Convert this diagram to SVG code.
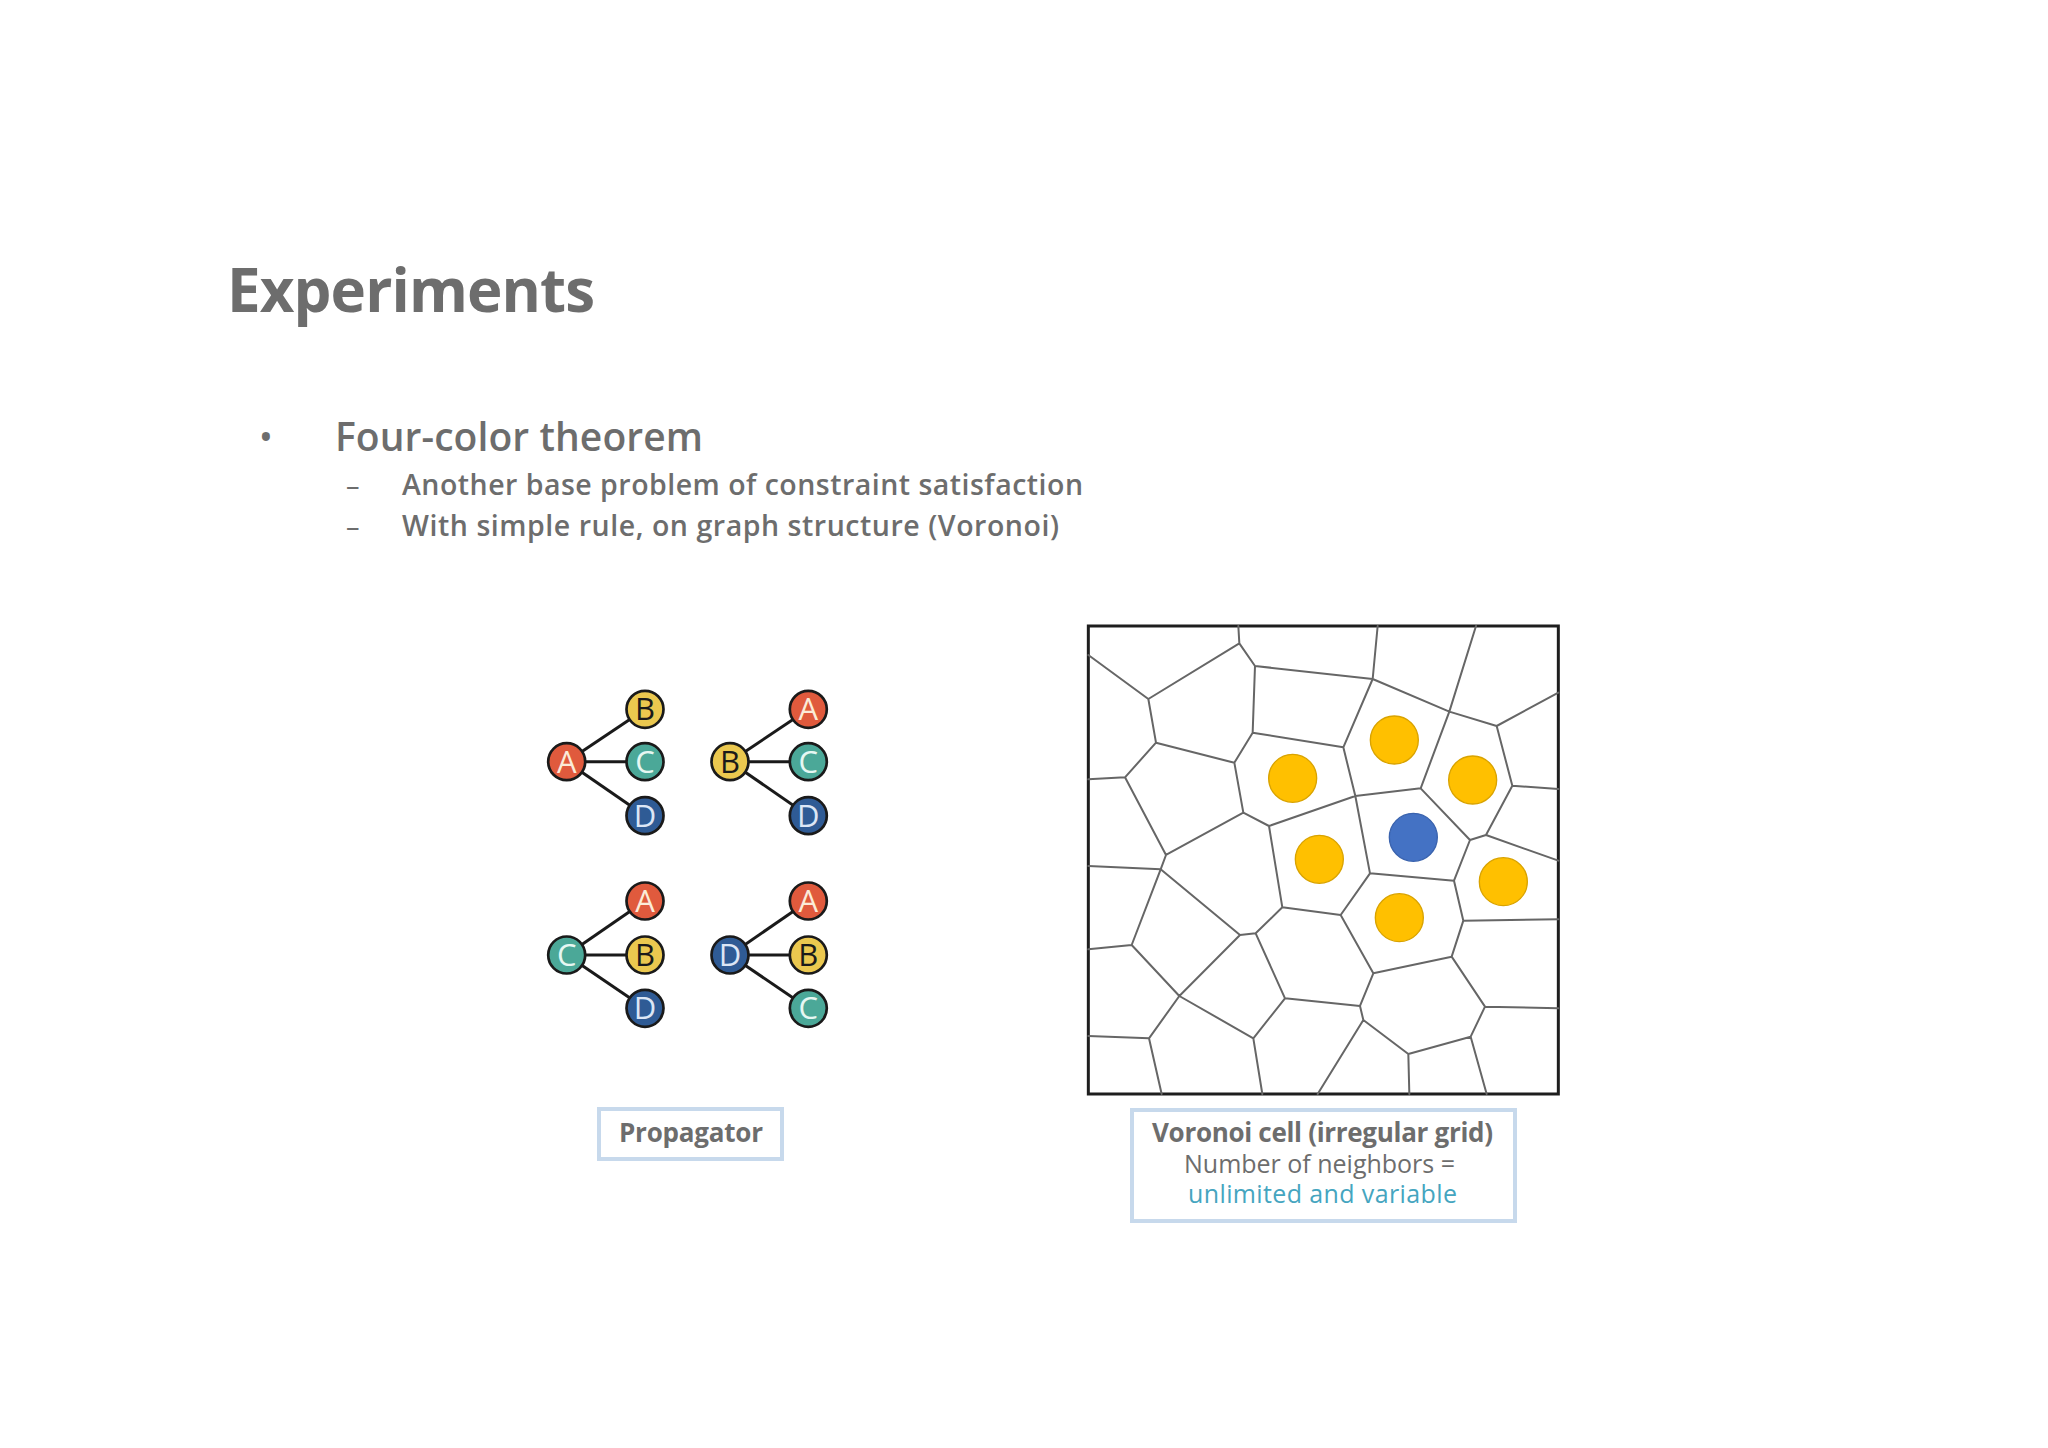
<svg xmlns="http://www.w3.org/2000/svg" width="2048" height="1448" viewBox="0 0 2048 1448">
<defs>
<style>
.t{font-family:"Open Sans","Liberation Sans",sans-serif;fill:#6d6d6d}
.b{font-weight:700}
.sb{font-weight:600}
.lbl{fill:none;stroke:#c7d9ec;stroke-width:4}
.edge{stroke:#1a1a1a;stroke-width:3;fill:none}
.nd circle{stroke:#1a1a1a;stroke-width:2.7}
.nd text{font-family:"Open Sans","Liberation Sans",sans-serif;font-size:31px;text-anchor:middle}
.cA{fill:#E05A3D}.cB{fill:#EBC84F}.cC{fill:#4BA898}.cD{fill:#2F5B95}
.tA{fill:#FBEBD8}.tB{fill:#1a1a1a}.tC{fill:#E6F7F2}.tD{fill:#DCE6F5}
.vor{stroke:#666666;stroke-width:6;fill:none;stroke-linecap:round}
.yd{fill:#FFC000;stroke:#D9A300;stroke-width:4}
.bd{fill:#4472C4;stroke:#3A63AE;stroke-width:4}
</style>
</defs>
<rect width="2048" height="1448" fill="#ffffff"/>

<g id="title">
<text class="t b" x="227" y="312" font-size="60" textLength="368">Experiments</text>
</g>
<g id="bullets">
<text class="t" x="266" y="451" font-size="38" text-anchor="middle">•</text>
<text class="t sb" x="335" y="451" font-size="39" textLength="368">Four-color theorem</text>
<text class="t" x="346" y="495" font-size="27">–</text>
<text class="t sb" x="402" y="495" font-size="28.5" textLength="681">Another base problem of constraint satisfaction</text>
<text class="t" x="346" y="536" font-size="27">–</text>
<text class="t sb" x="402" y="536" font-size="28.5" textLength="657">With simple rule, on graph structure (Voronoi)</text>
</g>

<g id="connectors">
<line class="edge" x1="566.7" y1="761.7" x2="645" y2="709.3"/>
<line class="edge" x1="566.7" y1="761.7" x2="645" y2="761.7"/>
<line class="edge" x1="566.7" y1="761.7" x2="645" y2="815.7"/>
<line class="edge" x1="730" y1="761.7" x2="808.3" y2="709.3"/>
<line class="edge" x1="730" y1="761.7" x2="808.3" y2="761.7"/>
<line class="edge" x1="730" y1="761.7" x2="808.3" y2="815.7"/>
<line class="edge" x1="566.7" y1="955" x2="645" y2="901"/>
<line class="edge" x1="566.7" y1="955" x2="645" y2="955"/>
<line class="edge" x1="566.7" y1="955" x2="645" y2="1008.3"/>
<line class="edge" x1="730" y1="955" x2="808.3" y2="901"/>
<line class="edge" x1="730" y1="955" x2="808.3" y2="955"/>
<line class="edge" x1="730" y1="955" x2="808.3" y2="1008.3"/>
</g>

<g id="g1-A" class="nd"><circle class="cA" cx="566.7" cy="761.7" r="18.5"/><text class="tA" x="566.7" y="772.7">A</text></g>
<g id="g1-B" class="nd"><circle class="cB" cx="645" cy="709.3" r="18.5"/><text class="tB" x="645" y="720.3">B</text></g>
<g id="g1-C" class="nd"><circle class="cC" cx="645" cy="761.7" r="18.5"/><text class="tC" x="645" y="772.7">C</text></g>
<g id="g1-D" class="nd"><circle class="cD" cx="645" cy="815.7" r="18.5"/><text class="tD" x="645" y="826.7">D</text></g>

<g id="g2-B" class="nd"><circle class="cB" cx="730" cy="761.7" r="18.5"/><text class="tB" x="730" y="772.7">B</text></g>
<g id="g2-A" class="nd"><circle class="cA" cx="808.3" cy="709.3" r="18.5"/><text class="tA" x="808.3" y="720.3">A</text></g>
<g id="g2-C" class="nd"><circle class="cC" cx="808.3" cy="761.7" r="18.5"/><text class="tC" x="808.3" y="772.7">C</text></g>
<g id="g2-D" class="nd"><circle class="cD" cx="808.3" cy="815.7" r="18.5"/><text class="tD" x="808.3" y="826.7">D</text></g>

<g id="g3-C" class="nd"><circle class="cC" cx="566.7" cy="955" r="18.5"/><text class="tC" x="566.7" y="966">C</text></g>
<g id="g3-A" class="nd"><circle class="cA" cx="645" cy="901" r="18.5"/><text class="tA" x="645" y="912">A</text></g>
<g id="g3-B" class="nd"><circle class="cB" cx="645" cy="955" r="18.5"/><text class="tB" x="645" y="966">B</text></g>
<g id="g3-D" class="nd"><circle class="cD" cx="645" cy="1008.3" r="18.5"/><text class="tD" x="645" y="1019.3">D</text></g>

<g id="g4-D" class="nd"><circle class="cD" cx="730" cy="955" r="18.5"/><text class="tD" x="730" y="966">D</text></g>
<g id="g4-A" class="nd"><circle class="cA" cx="808.3" cy="901" r="18.5"/><text class="tA" x="808.3" y="912">A</text></g>
<g id="g4-B" class="nd"><circle class="cB" cx="808.3" cy="955" r="18.5"/><text class="tB" x="808.3" y="966">B</text></g>
<g id="g4-C" class="nd"><circle class="cC" cx="808.3" cy="1008.3" r="18.5"/><text class="tC" x="808.3" y="1019.3">C</text></g>

<g id="voronoi" transform="translate(1080 620) scale(0.33333)">
<rect x="25" y="18" width="1410" height="1404" fill="#ffffff" stroke="#1e1e1e" stroke-width="9"/>
<path class="vor" d="M475 18L478 70 M478 70L205 237 M478 70L525 138 M25 105L205 237 M205 237L228 368 M525 138L878 177 M525 138L518 338 M893 18L878 177 M878 177L1108 275 M1188 18L1108 275 M878 177L790 382 M1108 275L1250 318 M1250 318L1435 218 M1250 318L1297 497 M1297 497L1435 507 M1297 497L1218 645 M1108 275L1022 505 M790 382L826 528 M826 528L1022 505 M1022 505L1170 660 M1218 645L1170 660 M1218 645L1435 722 M1170 660L1122 782 M1122 782L1150 902 M1150 902L1435 898 M1122 782L870 760 M826 528L870 760 M826 528L567 618 M567 618L490 578 M490 578L463 428 M463 428L518 338 M518 338L790 382 M463 428L228 368 M228 368L135 472 M135 472L25 478 M135 472L258 705 M490 578L258 705 M258 705L242 748 M242 748L25 738 M242 748L480 945 M242 748L155 975 M155 975L25 988 M567 618L607 862 M607 862L782 885 M870 760L782 885 M607 862L527 940 M527 940L480 945 M527 940L615 1135 M782 885L880 1060 M880 1060L1115 1010 M1150 902L1115 1010 M1115 1010L1215 1160 M1215 1160L1435 1165 M1215 1160L1172 1250 M1172 1250L1220 1422 M1172 1250L985 1302 M985 1302L988 1422 M985 1302L850 1200 M850 1200L840 1158 M840 1158L880 1060 M615 1135L840 1158 M615 1135L520 1255 M520 1255L547 1422 M520 1255L298 1128 M298 1128L480 945 M155 975L298 1128 M298 1128L207 1255 M207 1255L25 1248 M207 1255L245 1422 M850 1200L713 1422"/>
<circle class="yd" cx="943" cy="360" r="72"/>
<circle class="yd" cx="638" cy="475" r="72"/>
<circle class="yd" cx="1178" cy="480" r="72"/>
<circle class="bd" cx="1000" cy="652" r="72"/>
<circle class="yd" cx="718" cy="718" r="72"/>
<circle class="yd" cx="1270" cy="785" r="72"/>
<circle class="yd" cx="958" cy="893" r="72"/>
</g>

<g id="label-propagator">
<rect class="lbl" x="599" y="1109" width="183" height="50"/>
<text class="t b" x="619" y="1142" font-size="26" textLength="144">Propagator</text>
</g>
<g id="label-voronoi">
<rect class="lbl" x="1132" y="1110" width="383" height="111"/>
<text class="t b" x="1152" y="1142" font-size="26" textLength="341">Voronoi cell (irregular grid)</text>
<text class="t" x="1184" y="1173" font-size="25" textLength="271">Number of neighbors =</text>
<text class="t" x="1188" y="1203" font-size="25" textLength="269" style="fill:#45A5BF">unlimited and variable</text>
</g>
</svg>
